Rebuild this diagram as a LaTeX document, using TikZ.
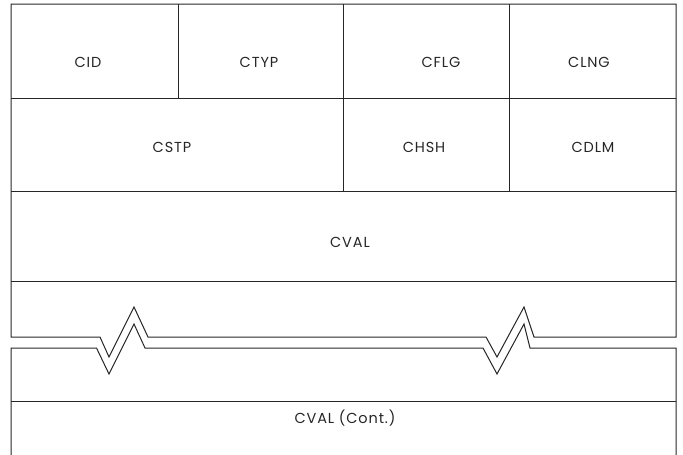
\documentclass[tikz,border=0pt]{standalone}
\usepackage{fontspec}
\setmainfont{Poppins}[LetterSpace=6]
\begin{document}
\begin{tikzpicture}[x=1pt,y=-1pt,
  frame/.style={line width=1pt,draw=black!85,line join=miter},
  lbl/.style={font=\fontsize{14.5}{16}\selectfont,text=black!85,inner sep=0pt}]
\useasboundingbox (0,0) rectangle (683,455);
% upper piece
\draw[frame] (11,337) -- (100,337) -- (109,357) -- (134,307) -- (148,337)
  -- (486,337) -- (497,357) -- (524,307) -- (534,337) -- (676,337)
  -- (676,4) -- (11,4) -- cycle;
% internal grid
\draw[frame] (11,98) -- (676,98);
\draw[frame] (11,191) -- (676,191);
\draw[frame] (11,281) -- (676,281);
\draw[frame] (178,4) -- (178,98);
\draw[frame] (343,4) -- (343,191);
\draw[frame] (509,4) -- (509,191);
% lower piece
\draw[frame] (11,455) -- (11,348) -- (96.5,348) -- (109,374) -- (134,324) -- (145,348)
  -- (483,348) -- (497,374) -- (524,324) -- (530,348) -- (676,348) -- (676,455);
\draw[frame] (11,401) -- (676,401);
% labels
\node[lbl] (cid)  at (88,62)  {CID};
\node[lbl] (ctyp) at (259,62) {CTYP};
\node[lbl] (cflg) at (441,62) {CFLG};
\node[lbl] (clng) at (589,62) {CLNG};
\node[lbl] (cstp) at (172,147) {CSTP};
\node[lbl] (chsh) at (424,147) {CHSH};
\node[lbl] (cdlm) at (593,147) {CDLM};
\node[lbl] (cval) at (350,242) {CVAL};
\node[lbl] (cvalc) at (345,418) {CVAL (Cont.)};
\end{tikzpicture}
\end{document}
